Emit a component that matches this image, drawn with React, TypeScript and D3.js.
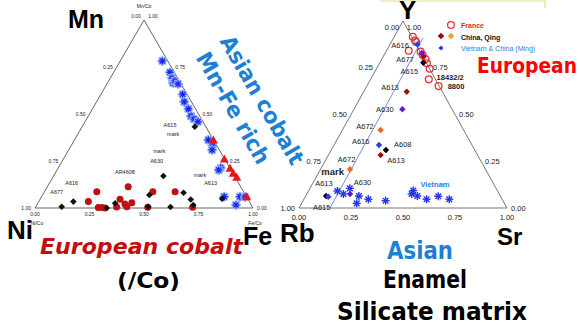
import React from "react";
import * as d3 from "d3";

type TP = [number, number]; // [right-corner fraction, top-corner fraction]

// ---------- Left ternary: Mn/Co (top), Ni/Co (left), Fe/Co (right) ----------
const leftAsianStars: TP[] = [
  [0.193, 0.782], [0.258, 0.722], [0.283, 0.691], [0.301, 0.665], [0.304, 0.676],
  [0.326, 0.66], [0.375, 0.605], [0.402, 0.565], [0.44, 0.527], [0.471, 0.489],
  [0.493, 0.473], [0.518, 0.459], [0.614, 0.362], [0.65, 0.33], [0.658, 0.309],
  [0.745, 0.214], [0.742, 0.202], [0.838, 0.06], [0.91, 0.06], [0.934, 0.059],
  [0.914, 0.016],
];
const leftRedTriangles: TP[] = [
  [0.637, 0.362], [0.738, 0.261], [0.789, 0.211], [0.817, 0.185], [0.844, 0.163],
  [0.941, 0.06],
];
const leftRedCircles: TP[] = [
  [0.24, 0.087], [0.228, 0.034], [0.289, 0.003], [0.306, 0.003], [0.321, 0.0],
  [0.372, 0.005], [0.367, 0.046], [0.371, 0.113], [0.402, 0.021], [0.43, 0.028],
  [0.418, 0.007], [0.497, 0.087], [0.515, 0.004], [0.599, 0.087], [0.721, 0.004],
];
const leftBlackDiamonds: TP[] = [
  [0.119, 0.007], [0.159, 0.034], [0.329, 0.0], [0.355, 0.025], [0.516, 0.007],
  [0.49, 0.069], [0.504, 0.17], [0.619, 0.005], [0.641, 0.081], [0.692, 0.045],
  [0.718, 0.016], [0.834, 0.049], [0.517, 0.432],
];
const leftLabels: { text: string; p: TP }[] = [
  { text: "A615", p: [0.399, 0.441] },
  { text: "mark", p: [0.438, 0.392] },
  { text: "mark", p: [0.418, 0.305] },
  { text: "A630", p: [0.432, 0.252] },
  { text: "AR4608", p: [0.316, 0.193] },
  { text: "A616", p: [0.101, 0.135] },
  { text: "A677", p: [0.056, 0.087] },
  { text: "mark", p: [0.669, 0.176] },
  { text: "A613", p: [0.74, 0.131] },
];

// ---------- Right ternary: Y (top), Rb (left), Sr (right) ----------
const franceCircles: TP[] = [
  [0.089, 0.916], [0.11, 0.896], [0.119, 0.888], [0.107, 0.841], [0.167, 0.836],
  [0.186, 0.818], [0.21, 0.797], [0.228, 0.774], [0.256, 0.745], [0.28, 0.688],
  [0.345, 0.652],
];
const qingDarkRed: TP[] = [[0.194, 0.81], [0.207, 0.622], [0.251, 0.283]];
const qingOrange: TP[] = [[0.184, 0.417], [0.142, 0.207]];
const qingBlack: TP[] = [[0.209, 0.777], [0.263, 0.31], [0.098, 0.064]];
const mingBlue: TP[] = [[0.132, 0.875], [0.216, 0.337], [0.111, 0.06]];
const mingPurple: TP[] = [[0.176, 0.829], [0.233, 0.528], [0.208, 0.075]];
const vietnamStars: TP[] = [
  [0.139, 0.091], [0.176, 0.075], [0.192, 0.105], [0.256, 0.064], [0.265, 0.025],
  [0.31, 0.047], [0.397, 0.039], [0.503, 0.093], [0.504, 0.075], [0.537, 0.064],
  [0.59, 0.047], [0.638, 0.063], [0.699, 0.047],
];
const mingTrend: TP[] = [[0.149, 0.0], [0.142, 0.909]];
const rightLabels: { text: string; p: TP; bold?: boolean; color?: string; size?: number }[] = [
  { text: "A616", p: [0.052, 0.868] },
  { text: "A677", p: [0.112, 0.795] },
  { text: "A615", p: [0.164, 0.733] },
  { text: "A613", p: [0.115, 0.645] },
  { text: "A630", p: [0.148, 0.529] },
  { text: "18432/2", p: [0.376, 0.701], bold: true },
  { text: "8800", p: [0.429, 0.652], bold: true },
  { text: "A672", p: [0.1, 0.435] },
  { text: "A616", p: [0.119, 0.355] },
  { text: "A608", p: [0.328, 0.342] },
  { text: "A613", p: [0.34, 0.253] },
  { text: "A672", p: [0.099, 0.26] },
  { text: "mark", p: [0.065, 0.194], bold: true, size: 9.5 },
  { text: "A630", p: [0.238, 0.135] },
  { text: "A613", p: [0.054, 0.132] },
  { text: "A615", p: [0.107, 0.004] },
  { text: "Vietnam", p: [0.59, 0.128], bold: true, color: "#2b7fd8" },
];

const tickValues = [0, 0.25, 0.5, 0.75, 1];
const legendItems = ["France", "China, Qing", "Vietnam & China (Ming)"];

const COMIC = "'Comic Sans MS', 'DejaVu Sans', sans-serif";
const ARIAL = "'Liberation Sans', Arial, sans-serif";

function makeTernary(x0: number, y0: number, w: number, h: number) {
  const sx = d3.scaleLinear().domain([0, 1]).range([x0, x0 + w]);
  const sy = d3.scaleLinear().domain([0, 1]).range([y0, y0 - h]);
  return (p: TP): [number, number] => [sx(p[0] + p[1] / 2), sy(p[1])];
}

const fmt = d3.format(".2f");

function Star({ x, y, r, color, halo, w = 1.2 }: { x: number; y: number; r: number; color: string; halo?: string; w?: number }) {
  const arms = [0, 45, 90, 135].map((a) => {
    const rad = (a * Math.PI) / 180;
    return [x - r * Math.cos(rad), y - r * Math.sin(rad), x + r * Math.cos(rad), y + r * Math.sin(rad)];
  });
  return (
    <g>
      {halo && arms.map((l, i) => (
        <line key={"h" + i} x1={l[0]} y1={l[1]} x2={l[2]} y2={l[3]} stroke={halo} strokeWidth={3} strokeLinecap="round" />
      ))}
      {arms.map((l, i) => (
        <line key={i} x1={l[0]} y1={l[1]} x2={l[2]} y2={l[3]} stroke={color} strokeWidth={w} />
      ))}
    </g>
  );
}

function Diamond({ x, y, r, color }: { x: number; y: number; r: number; color: string }) {
  return <path d={`M${x},${y - r}L${x + r},${y}L${x},${y + r}L${x - r},${y}Z`} fill={color} />;
}

function Frame({ proj, fontSize, gap, bottomGap, color }: { proj: (p: TP) => [number, number]; fontSize: number; gap: number; bottomGap: number; color: string }) {
  const A = proj([0, 1]);
  const L = proj([0, 0]);
  const R = proj([1, 0]);
  return (
    <g fontFamily={ARIAL} fontSize={fontSize} fill="#222">
      <path d={`M${L[0]},${L[1]}L${R[0]},${R[1]}L${A[0]},${A[1]}Z`} fill="none" stroke={color} strokeWidth={1} />
      {tickValues.map((v) => {
        const b = proj([v, 0]);
        return <text key={"b" + v} x={b[0]} y={b[1] + bottomGap} textAnchor="middle">{fmt(v)}</text>;
      })}
      {tickValues.slice(1).map((v) => {
        const p = proj([0, 1 - v]);
        return <text key={"l" + v} x={p[0] - gap} y={p[1] + fontSize * 0.35} textAnchor="end">{fmt(v)}</text>;
      })}
      {tickValues.slice(0, 4).map((v) => {
        const p = proj([1 - v, v]);
        return <text key={"r" + v} x={p[0] + gap} y={p[1] + fontSize * 0.35} textAnchor="start">{fmt(v)}</text>;
      })}
    </g>
  );
}

export default function App() {
  const pl = makeTernary(35, 208, 218, 188);
  const pr = makeTernary(299, 208, 208, 187);
  const apL = pl([0, 1]);
  const apR = pr([0, 1]);
  const trend = d3.line<TP>().x((d) => pr(d)[0]).y((d) => pr(d)[1]);

  return (
    <svg width={580} height={325} style={{ position: "absolute", left: 0, top: 0, background: "#fff" }}>
      <rect width={580} height={325} fill="#fff" />
      <line x1={380} y1={1} x2={545} y2={1} stroke="#f3ecc4" strokeWidth={2} />
      <line x1={545} y1={0} x2={545} y2={8} stroke="#f0e09a" strokeWidth={1.5} />

      {/* ---------- Left ternary ---------- */}
      <Frame proj={pl} fontSize={5} gap={4} bottomGap={8} color="#666" />
      <g fontFamily={ARIAL} fontSize={5} fill="#222" textAnchor="middle">
        <text x={apL[0]} y={8}>Mn/Co</text>
        <text x={apL[0] - 8} y={apL[1] - 2}>0.00</text>
        <text x={apL[0] + 9} y={apL[1] - 2}>1.00</text>
        <text x={37} y={225}>Ni/Co</text>
        <text x={255} y={225}>Fe/Co</text>
      </g>
      {leftAsianStars.map((p, i) => {
        const [x, y] = pl(p);
        return <Star key={"ls" + i} x={x} y={y} r={3.6} color="#1020f0" halo="#9db6ff" />;
      })}
      {leftRedTriangles.map((p, i) => {
        const [x, y] = pl(p);
        return <path key={"lt" + i} d={`M${x},${y - 4.5}L${x + 4.5},${y + 3.5}L${x - 4.5},${y + 3.5}Z`} fill="#e8141c" />;
      })}
      {leftRedCircles.map((p, i) => {
        const [x, y] = pl(p);
        return <circle key={"lc" + i} cx={x} cy={y} r={3.5} fill="#c00f14" />;
      })}
      {leftBlackDiamonds.map((p, i) => {
        const [x, y] = pl(p);
        return <Diamond key={"ld" + i} x={x} y={y} r={3.3} color="#0a120a" />;
      })}
      <g fontFamily={ARIAL} fontSize={5.5} fill="#222" textAnchor="middle">
        {leftLabels.map((l, i) => {
          const [x, y] = pl(l.p);
          return <text key={"ll" + i} x={x} y={y + 2}>{l.text}</text>;
        })}
      </g>

      {/* ---------- Right ternary ---------- */}
      <Frame proj={pr} fontSize={7.5} gap={4} bottomGap={12} color="#777" />
      <g fontFamily={ARIAL} fontSize={7.5} fill="#222" textAnchor="middle">
        <text x={apR[0] - 11} y={apR[1] + 9}>0.00</text>
        <text x={apR[0] + 11} y={apR[1] + 9}>1.00</text>
      </g>
      <path d={trend(mingTrend) || ""} stroke="#6f8fe0" strokeWidth={1} fill="none" />
      {franceCircles.map((p, i) => {
        const [x, y] = pr(p);
        return <circle key={"fc" + i} cx={x} cy={y} r={3.4} fill="none" stroke="#e03535" strokeWidth={1.3} />;
      })}
      {qingDarkRed.map((p, i) => {
        const [x, y] = pr(p);
        return <Diamond key={"qd" + i} x={x} y={y} r={3.2} color="#9b0f14" />;
      })}
      {qingOrange.map((p, i) => {
        const [x, y] = pr(p);
        return <Diamond key={"qo" + i} x={x} y={y} r={3.2} color="#f2641e" />;
      })}
      {qingBlack.map((p, i) => {
        const [x, y] = pr(p);
        return <Diamond key={"qb" + i} x={x} y={y} r={3.2} color="#000" />;
      })}
      {mingBlue.map((p, i) => {
        const [x, y] = pr(p);
        return <Diamond key={"mb" + i} x={x} y={y} r={3.2} color="#2a3cf5" />;
      })}
      {mingPurple.map((p, i) => {
        const [x, y] = pr(p);
        return <Diamond key={"mp" + i} x={x} y={y} r={3.2} color="#5a1fd0" />;
      })}
      {vietnamStars.map((p, i) => {
        const [x, y] = pr(p);
        return <Star key={"vs" + i} x={x} y={y} r={4} color="#2233ee" w={1.4} />;
      })}
      <g fontFamily={ARIAL} textAnchor="middle">
        {rightLabels.map((l, i) => {
          const [x, y] = pr(l.p);
          const s = l.size || 7.5;
          return (
            <text key={"rl" + i} x={x} y={y + s * 0.35} fontSize={s} fontWeight={l.bold ? "bold" : "normal"} fill={l.color || "#222"}>
              {l.text}
            </text>
          );
        })}
      </g>

      {/* legend */}
      <g fontFamily={ARIAL} fontSize={7} fontWeight="bold">
        <circle cx={451} cy={25} r={3.4} fill="none" stroke="#e03535" strokeWidth={1.3} />
        <text x={461} y={28} fill="#e02828">{legendItems[0]}</text>
        <Diamond x={441} y={36} r={3.3} color="#8b0f14" />
        <Diamond x={451} y={36} r={3.3} color="#f5a020" />
        <text x={461} y={39.5} fill="#111">{legendItems[1]}</text>
        <Diamond x={441} y={48} r={2.6} color="#2a3cf5" />
        <text x={461} y={51} fill="#2b7fd8" fontWeight="normal">{legendItems[2]}</text>
      </g>

      {/* ---------- Annotations ---------- */}
      <g fontFamily={ARIAL} fontWeight="bold" fill="#000">
        <text x={68} y={28} fontSize={25}>Mn</text>
        <text x={7} y={239} fontSize={26}>Ni</text>
        <text x={243} y={245} fontSize={25}>Fe</text>
        <text x={280} y={242} fontSize={26}>Rb</text>
        <text x={497} y={245} fontSize={24}>Sr</text>
        <text x={399} y={19} fontSize={26}>Y</text>
      </g>
      <g fontFamily={COMIC} fontWeight="bold">
        <g transform="translate(262,100) rotate(60)" fill="#1f7fd3" fontSize={22}>
          <text x={0} y={0} textAnchor="middle" dominantBaseline="central" textLength={145} lengthAdjust="spacingAndGlyphs">Asian cobalt</text>
        </g>
        <g transform="translate(233,108) rotate(60)" fill="#1f7fd3" fontSize={22}>
          <text x={0} y={0} textAnchor="middle" dominantBaseline="central" textLength={125} lengthAdjust="spacingAndGlyphs">Mn-Fe rich</text>
        </g>
        <text x={40} y={254} fontSize={22} fontStyle="italic" fill="#c40d0d" textLength={203} lengthAdjust="spacingAndGlyphs">European cobalt</text>
        <text x={117} y={288} fontSize={22} fill="#000" textLength={63} lengthAdjust="spacingAndGlyphs">(/Co)</text>
        <text x={477} y={73} fontSize={21} fill="#ff0000" textLength={100} lengthAdjust="spacingAndGlyphs">European</text>
        <text x={387} y={259} fontSize={25} fill="#1f7fd3" textLength={66} lengthAdjust="spacingAndGlyphs">Asian</text>
        <text x={383} y={288} fontSize={24} fill="#000" textLength={84} lengthAdjust="spacingAndGlyphs">Enamel</text>
        <text x={337} y={320} fontSize={24} fill="#000" textLength={190} lengthAdjust="spacingAndGlyphs">Silicate matrix</text>
      </g>
    </svg>
  );
}
